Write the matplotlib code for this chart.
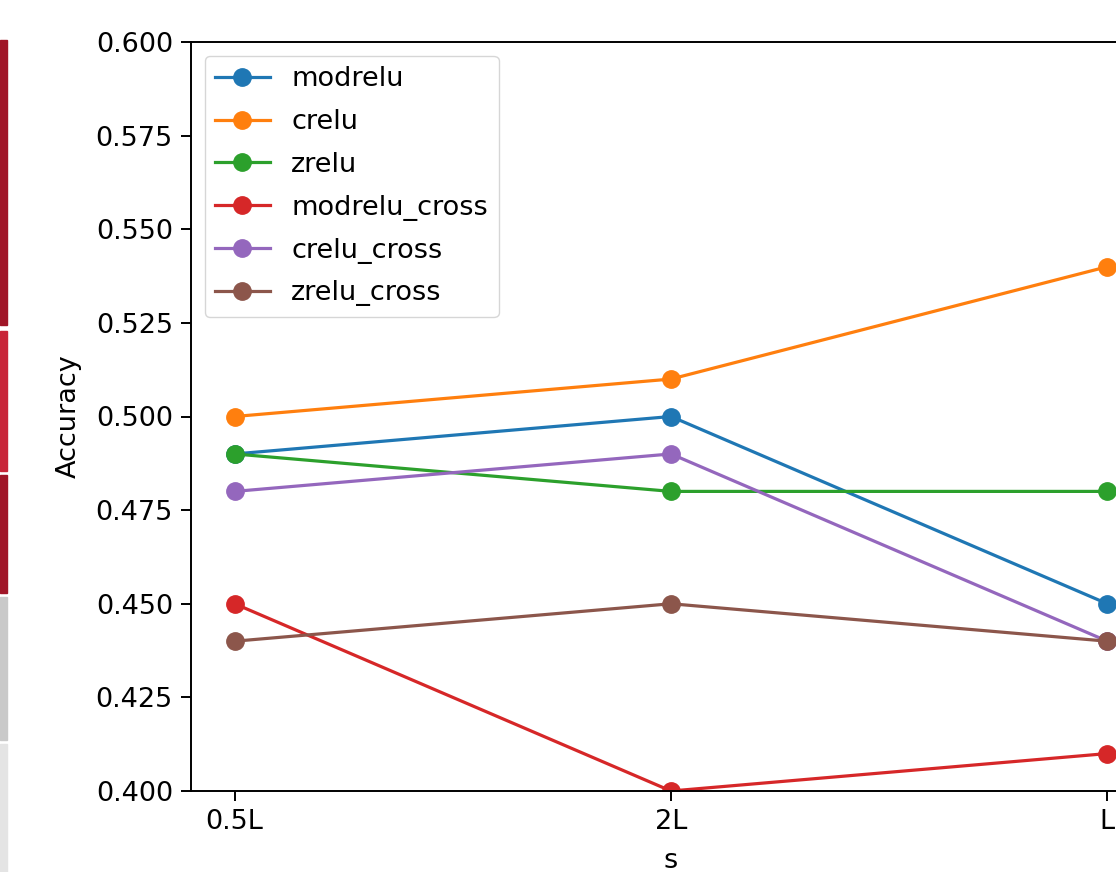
import numpy as np
import matplotlib
matplotlib.use("Agg")
import matplotlib.pyplot as plt
from matplotlib.patches import Rectangle

# data
s_labels = ["0.5L", "2L", "L"]
modrelu = [0.49, 0.50, 0.45]
crelu = [0.50, 0.51, 0.54]
zrelu = [0.49, 0.48, 0.48]
modrelu_cross = [0.45, 0.40, 0.41]
crelu_cross = [0.48, 0.49, 0.44]
zrelu_cross = [0.44, 0.45, 0.44]

series = {
    "modrelu": modrelu,
    "crelu": crelu,
    "zrelu": zrelu,
    "modrelu_cross": modrelu_cross,
    "crelu_cross": crelu_cross,
    "zrelu_cross": zrelu_cross,
}

plt.rcParams["font.size"] = 19.5
plt.rcParams["axes.linewidth"] = 1.4

W, H = 1116, 872
fig = plt.figure(figsize=(W / 100, H / 100), dpi=100)

# strip of the neighbouring window at the left edge of the screenshot
strip = [(40, 325, "#a01527"), (331, 471, "#c82538"), (475, 593, "#a01527"),
         (597, 740, "#c9c9c9"), (744, 872, "#e4e4e4")]
for y0, y1, c in strip:
    fig.patches.append(Rectangle((0, 1 - y1 / H), 7 / W, (y1 - y0) / H,
                                 transform=fig.transFigure, color=c, zorder=0))

ax = fig.add_axes([191 / W, (H - 791) / H, 960 / W, 749 / H])

for name, vals in series.items():
    ax.plot(s_labels, vals, marker="o", lw=2.3, ms=12.5, label=name)

ax.set_ylim(0.4, 0.6)
ax.set_yticks(np.arange(0.400, 0.601, 0.025))
ax.yaxis.set_major_formatter(matplotlib.ticker.FormatStrFormatter("%.3f"))
ax.tick_params(length=7, width=1.4, pad=6)
ax.set_xlabel("s", labelpad=9)
ax.set_ylabel("Accuracy", labelpad=10)
ax.legend(loc="upper left", handlelength=2.0, labelspacing=0.62)

fig.savefig("out.png", dpi=100)
